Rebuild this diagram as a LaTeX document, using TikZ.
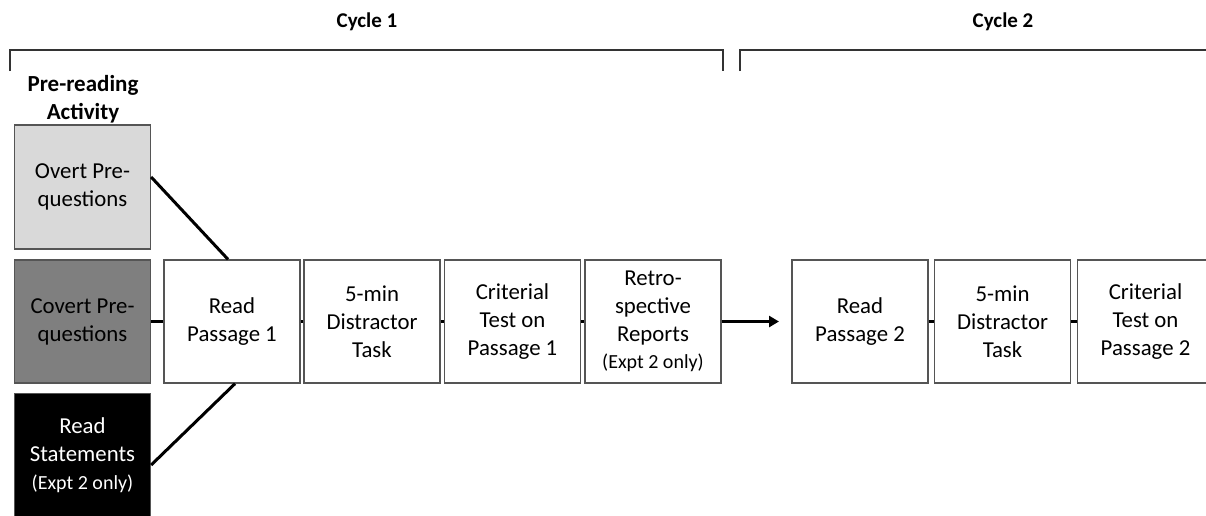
\documentclass[tikz,border=0pt]{standalone}
\usepackage{fontspec}
\setmainfont{Carlito}
\usetikzlibrary{arrows.meta}
\definecolor{overtc}{HTML}{D9D9D9}
\definecolor{covertc}{HTML}{7F7F7F}
\definecolor{edgec}{HTML}{555555}
\tikzset{
  stepbox/.style={draw=edgec, line width=1.3pt, minimum width=136pt, minimum height=123pt,
    inner sep=0pt, align=center, font=\fontsize{22.8}{28}\selectfont},
  conn/.style={line width=3pt, black},
  bracket/.style={line width=1.6pt, draw=black!80},
  title/.style={font=\bfseries\fontsize{21}{28}\selectfont, align=center},
  bigtitle/.style={font=\bfseries\fontsize{23}{28}\selectfont, align=center}
}
\newcommand{\smalltxt}[1]{{\fontsize{20}{27}\selectfont #1}}
\begin{document}
\begin{tikzpicture}[x=1pt,y=-1pt]
\useasboundingbox (0,0) rectangle (1206,515);
% titles
\node[title] (c1) at (367,22) {Cycle 1};
\node[title] (c2) at (1003,22) {Cycle 2};
\node[bigtitle] (pre) at (83,99) {Pre-reading\\Activity};
% brackets
\coordinate (b1a) at (10,71); \coordinate (b1b) at (10,50);
\coordinate (b1c) at (723,50); \coordinate (b1d) at (723,71);
\draw[bracket] (b1a) -- (b1b) -- (b1c) -- (b1d);
\coordinate (b2a) at (740,71); \coordinate (b2b) at (740,50);
\coordinate (b2c) at (1210,50);
\draw[bracket] (b2a) -- (b2b) -- (b2c);
% pre-reading boxes
\node[stepbox, fill=overtc, minimum height=124pt] (overt) at (82.5,187) {Overt Pre-\\questions};
\node[stepbox, fill=covertc] (covert) at (82.5,321.5) {Covert Pre-\\questions};
\node[stepbox, fill=black, text=white] (stmt) at (82.5,455) {Read\\Statements\\\smalltxt{(Expt 2 only)}};
% cycle 1
\node[stepbox] (rp1) at (232,321.5) {Read\\Passage 1};
\node[stepbox] (dis1) at (372,321.5) {5-min\\Distractor\\Task};
\node[stepbox] (crit1) at (512.5,321.5) {Criterial\\Test on\\Passage 1};
\node[stepbox] (retro) at (653,321.5) {Retro-\\spective\\Reports\\[-1pt]\smalltxt{(Expt 2 only)}};
% cycle 2
\node[stepbox] (rp2) at (860,321.5) {Read\\Passage 2};
\node[stepbox] (dis2) at (1002.5,321.5) {5-min\\Distractor\\Task};
\node[stepbox] (crit2) at (1145.5,321.5) {Criterial\\Test on\\Passage 2};
% connectors
\draw[conn] ([yshift=10pt]overt.east) -- ([xshift=-4pt]rp1.north);
\draw[conn] (covert.east) -- (rp1.west);
\draw[conn] ([yshift=-10pt]stmt.east) -- ([xshift=3pt]rp1.south);
\draw[conn] (rp1.east) -- (dis1.west);
\draw[conn] (dis1.east) -- (crit1.west);
\draw[conn] (crit1.east) -- (retro.west);
\coordinate (arrEnd) at (779,321.5);
\draw[conn, -{Triangle[length=10pt,width=11pt]}] (retro.east) -- (arrEnd);
\draw[conn] (rp2.east) -- (dis2.west);
\draw[conn] (dis2.east) -- (crit2.west);
\end{tikzpicture}
\end{document}
